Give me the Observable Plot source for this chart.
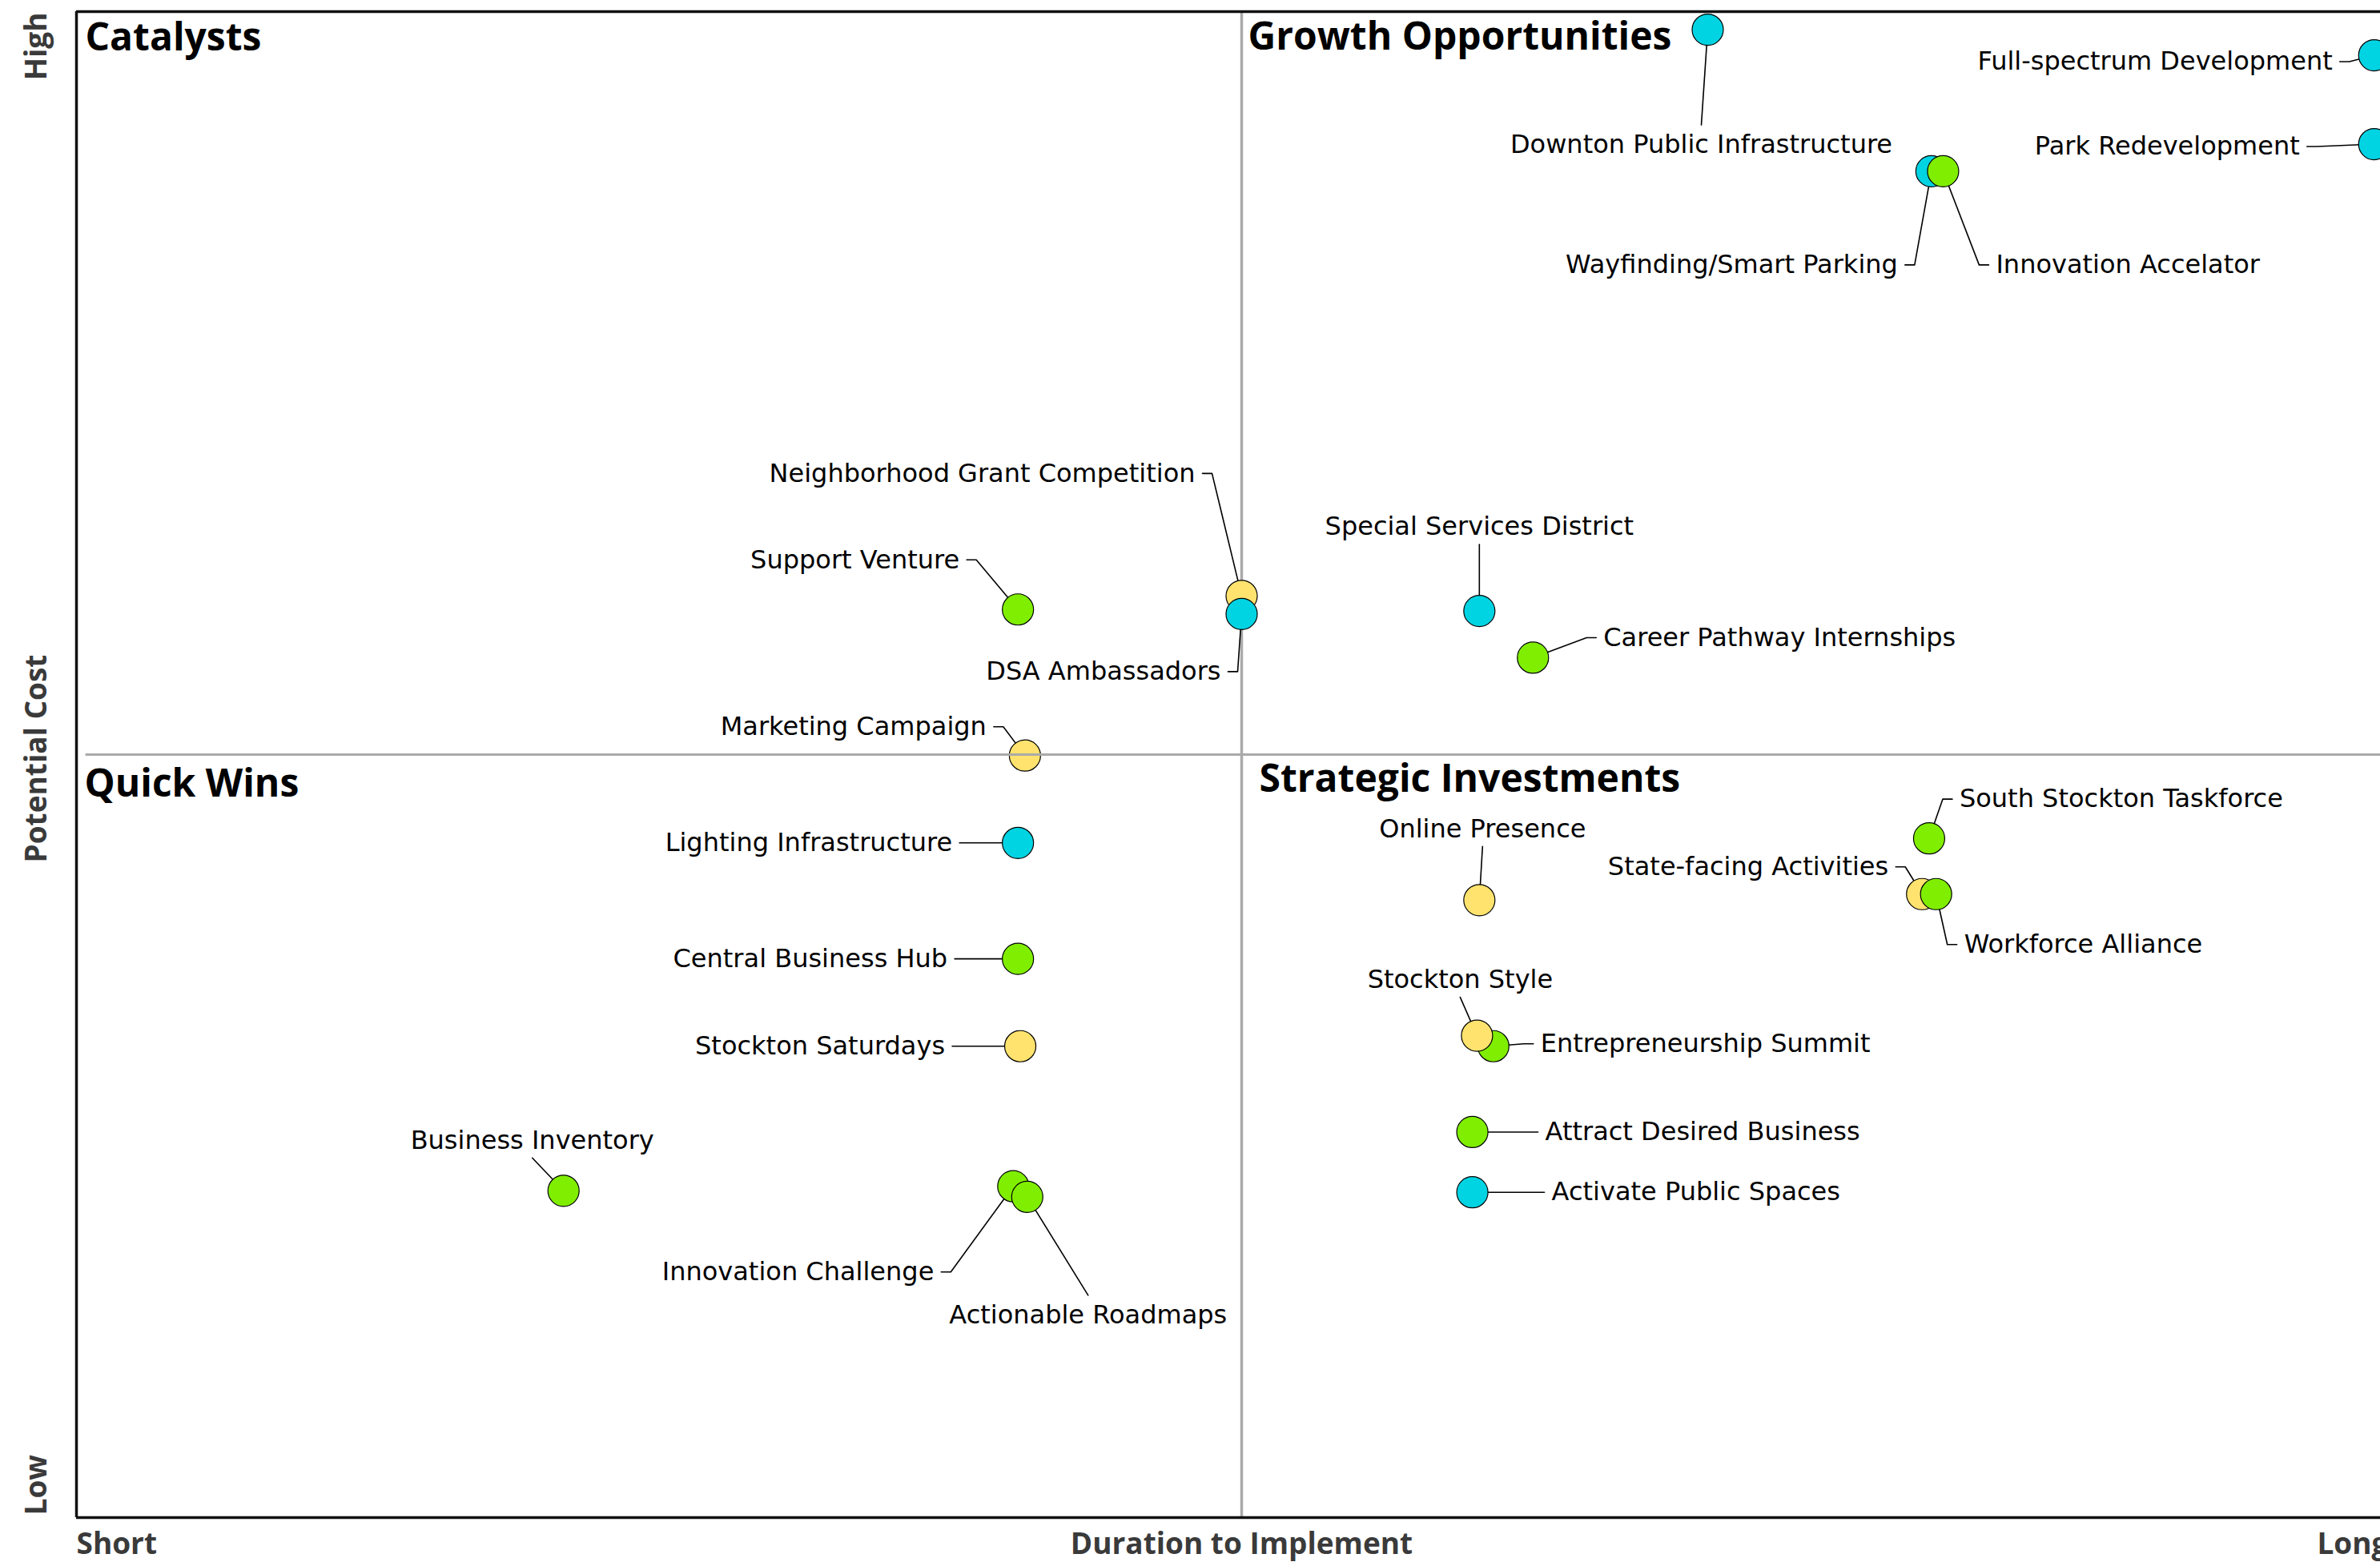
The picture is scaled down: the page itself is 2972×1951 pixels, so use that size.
<!DOCTYPE html>
<html>
<head>
<meta charset="utf-8">
<script src="https://cdn.jsdelivr.net/npm/d3@7"></script>
<script src="https://cdn.jsdelivr.net/npm/@observablehq/plot@0.6"></script>
<style>
html, body { margin: 0; padding: 0; background: #fff; overflow: hidden; }
</style>
</head>
<body>
<div id="chart"></div>
<script>
// ---------------- data ----------------
const names = [
  "Downton Public Infrastructure",
  "Full-spectrum Development",
  "Park Redevelopment",
  "Wayfinding/Smart Parking",
  "Innovation Accelator",
  "Neighborhood Grant Competition",
  "DSA Ambassadors",
  "Support Venture",
  "Marketing Campaign",
  "Special Services District",
  "Career Pathway Internships",
  "Lighting Infrastructure",
  "Central Business Hub",
  "Stockton Saturdays",
  "Business Inventory",
  "Innovation Challenge",
  "Actionable Roadmaps",
  "Online Presence",
  "South Stockton Taskforce",
  "State-facing Activities",
  "Workforce Alliance",
  "Entrepreneurship Summit",
  "Stockton Style",
  "Attract Desired Business",
  "Activate Public Spaces"
];
// duration to implement (0 = short, 100 = long)
const duration = [70.0, 98.6, 98.6, 79.6, 80.1, 50.0, 50.0, 40.4, 40.7, 60.2, 62.5, 40.4, 40.4, 40.5, 20.9, 40.2, 40.8, 60.2, 79.5, 79.2, 79.8, 60.8, 60.1, 59.9, 59.9];
// potential cost (0 = low, 100 = high)
const cost = [98.8, 97.1, 91.2, 89.4, 89.4, 61.2, 60.0, 60.3, 50.6, 60.2, 57.1, 44.8, 37.1, 31.3, 21.7, 22.0, 21.3, 41.0, 45.1, 41.4, 41.4, 31.3, 32.0, 25.6, 21.6];
const group = ["Place","Place","Place","Place","Economy","Image","Place","Economy","Image","Place","Economy","Place","Economy","Image","Economy","Economy","Economy","Image","Economy","Image","Economy","Economy","Image","Economy","Place"];

const groups = ["Place", "Economy", "Image"];
const quadrantNames = ["Catalysts", "Growth Opportunities", "Quick Wins", "Strategic Investments"];
const xTickLabels = ["Short", "Duration to Implement", "Long"];
const yTickLabels = ["Low", "Potential Cost", "High"];

// ---------------- layout / style ----------------
const groupColors = ["#00d3e2", "#80ee00", "#ffe36e"];
const labelSide = ["below","left","left","left","right","left","left","left","left","above","right","left","left","left","above","left","below","above","right","left","right","right","above","right","right"];
const labelDx = [-8,-52,-93,-42,66,-58,-26,-73,-48,0,88,-82,-88,-94,-39,-99,76,4,38,-42,35,59,-21,91,99];
const labelDy = [144,8,3,117,117,-153,72,-62,-36,-105,-25,0,0,0,-63,107,148,-89,-49,-34,63,-3,-70,0,0];

const W = 2972, H = 1951;
const mTop = 14, mBottom = 56, mLeft = 95;
const xDomain = [0, 100], yDomain = [0, 100];
const xRange = [mLeft, 3005];
const yRange = [H - mBottom, mTop];
const xMid = 50, yMid = 50.66;

const xs = Plot.scale({x: {domain: xDomain, range: xRange}});
const ys = Plot.scale({y: {domain: yDomain, range: yRange}});

const GAP = 9, TICK = 12;
const items = names.map((name, i) => {
  const cx = xs.apply(duration[i]), cy = ys.apply(cost[i]);
  const px = cx + labelDx[i], py = cy + labelDy[i];
  return {name, duration: duration[i], cost: cost[i], group: group[i], side: labelSide[i],
          cx, cy, px, py, lx: xs.invert(px), ly: ys.invert(py)};
});

const leaders = [];
for (const d of items) {
  let pts;
  if (d.side === "left") pts = [[d.px + GAP, d.py], [d.px + GAP + TICK, d.py], [d.cx, d.cy]];
  else if (d.side === "right") pts = [[d.px - GAP, d.py], [d.px - GAP - TICK, d.py], [d.cx, d.cy]];
  else if (d.side === "above") pts = [[d.px, d.py + 22], [d.cx, d.cy]];
  else pts = [[d.px, d.py - 25], [d.cx, d.cy]];
  pts.forEach(([x, y], k) => leaders.push({name: d.name, k, x: xs.invert(x), y: ys.invert(y)}));
}

const labelFont = {fontFamily: "DejaVu Sans", fontSize: 32, fill: "#000", lineAnchor: "middle"};
const quadFont = {fontFamily: "Open Sans", fontWeight: 700, fontSize: 48, fill: "#000", lineAnchor: "top", textAnchor: "start"};
const axisFont = {fontFamily: "Open Sans", fontWeight: 700, fontSize: 37, fill: "#3a3a3a"};

const chart = Plot.plot({
  width: W,
  height: H,
  marginTop: mTop,
  marginBottom: mBottom,
  marginLeft: mLeft,
  marginRight: 0,
  style: {background: "#fff", fontFamily: "DejaVu Sans", maxWidth: "none"},
  x: {domain: xDomain, range: xRange, axis: null},
  y: {domain: yDomain, range: yRange, axis: null},
  color: {domain: groups, range: groupColors},
  marks: [
    // vertical divider (under the dots)
    Plot.ruleX([xMid], {y1: yDomain[0], y2: yDomain[1], stroke: "#aaaaaa", strokeWidth: 3.5}),
    // leader lines
    Plot.line(leaders, {x: "x", y: "y", z: "name", stroke: "#000", strokeWidth: 1.6}),
    // dots
    Plot.dot(items, {x: "duration", y: "cost", r: 19.5, fill: "group", stroke: "#000", strokeWidth: 1.2}),
    // horizontal divider (over the dots)
    Plot.ruleY([yMid], {x1: 0.4, x2: xDomain[1], stroke: "#aaaaaa", strokeWidth: 3}),
    // frame
    Plot.ruleX([xDomain[0]], {y1: yDomain[0], y2: yDomain[1], stroke: "#111", strokeWidth: 3.5}),
    Plot.ruleY([yDomain[0], yDomain[1]], {x1: xDomain[0], x2: xDomain[1], stroke: "#111", strokeWidth: 3.5}),
    // point labels
    Plot.text(items.filter(d => d.side === "left"), {x: "lx", y: "ly", text: "name", textAnchor: "end", ...labelFont}),
    Plot.text(items.filter(d => d.side === "right"), {x: "lx", y: "ly", text: "name", textAnchor: "start", ...labelFont}),
    Plot.text(items.filter(d => d.side === "above" || d.side === "below"), {x: "lx", y: "ly", text: "name", textAnchor: "middle", ...labelFont}),
    // quadrant titles
    Plot.text([quadrantNames[0]], {x: xDomain[0], y: yDomain[1], text: d => d, dx: 11, dy: 14, ...quadFont}),
    Plot.text([quadrantNames[1]], {x: xMid, y: yDomain[1], text: d => d, dx: 8, dy: 13, ...quadFont}),
    Plot.text([quadrantNames[2]], {x: xDomain[0], y: yMid, text: d => d, dx: 10, dy: 18, ...quadFont}),
    Plot.text([quadrantNames[3]], {x: xMid, y: yMid, text: d => d, dx: 22, dy: 12, ...quadFont}),
    // x axis labels
    Plot.text([xTickLabels[0]], {x: xDomain[0], y: yDomain[0], text: d => d, dy: 19, lineAnchor: "top", textAnchor: "start", ...axisFont}),
    Plot.text([xTickLabels[1]], {x: xMid, y: yDomain[0], text: d => d, dy: 19, lineAnchor: "top", textAnchor: "middle", ...axisFont}),
    Plot.text([xTickLabels[2]], {x: xDomain[1], y: yDomain[0], text: d => d, dx: -23, dy: 19, lineAnchor: "top", textAnchor: "end", ...axisFont}),
    // y axis labels
    Plot.text([yTickLabels[0]], {x: xDomain[0], y: yDomain[0], text: d => d, dx: -49, dy: -3, rotate: -90, lineAnchor: "middle", textAnchor: "start", ...axisFont}),
    Plot.text([yTickLabels[1]], {x: xDomain[0], y: yMid, text: d => d, dx: -49, dy: 5, rotate: -90, lineAnchor: "middle", textAnchor: "middle", ...axisFont}),
    Plot.text([yTickLabels[2]], {x: xDomain[0], y: yDomain[1], text: d => d, dx: -49, dy: 1, rotate: -90, lineAnchor: "middle", textAnchor: "end", ...axisFont})
  ]
});

document.getElementById("chart").appendChild(chart);
</script>
</body>
</html>
